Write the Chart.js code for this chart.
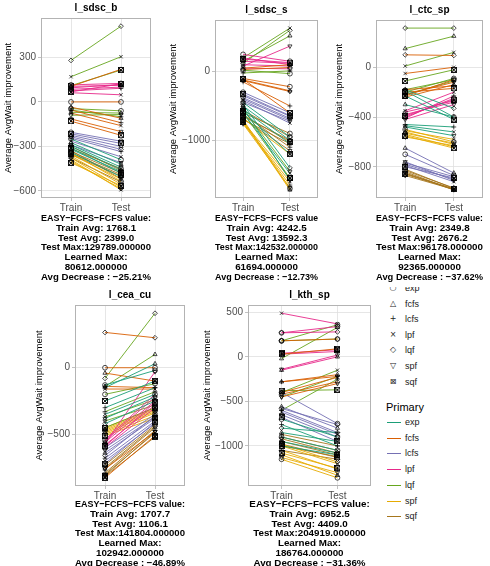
<!DOCTYPE html>
<html>
<head>
<meta charset="utf-8">
<script src="https://cdn.jsdelivr.net/npm/chart.js@4.4.1/dist/chart.umd.min.js"></script>
<style>
  html, body { margin: 0; padding: 0; background: #fff; overflow: hidden; }
  body { width: 490px; height: 566px; position: relative; font-family: 'Liberation Sans', Arial, sans-serif; }
  canvas { position: absolute; background: #fff; }
  .lg { position: absolute; font-size: 9px; line-height: 10px; color: #1a1a1a; white-space: nowrap; }
  .sym { position: absolute; width: 12px; text-align: center; font-family: 'DejaVu Sans', sans-serif; font-size: 8px; line-height: 10px; color: #222; }
  .swatch { position: absolute; width: 14px; height: 0; border-top: 1.5px solid; }
</style>
</head>
<body>
<div id="legend"></div>
<canvas id="c1" width="163" height="290" style="left:0px;top:0px"></canvas>
<canvas id="c2" width="165" height="288" style="left:165px;top:2px"></canvas>
<canvas id="c3" width="159" height="285" style="left:331px;top:2px"></canvas>
<canvas id="c4" width="166" height="291" style="left:31px;top:287px"></canvas>
<canvas id="c5" width="180" height="291" style="left:199px;top:287px"></canvas>
<script>
(function () {
  'use strict';

  // categories
  const phases = ['Train', 'Test'];
  const primaries = ['exp', 'fcfs', 'lcfs', 'lpf', 'lqf', 'spf', 'sqf'];
  const secondaries = ['exp', 'fcfs', 'lcfs', 'lpf', 'lqf', 'spf', 'sqf'];

  // values: 7 primaries x 7 secondaries (primary-major order)
  const sdscBTrain = [
    -250, -275, -300, -320, -340, -290, -310,
    0, -35, -55, -75, 105, -115, -130,
    -205, -225, -245, -265, -235, -290, -215,
    115, 105, 75, 62, 85, 95, 68,
    -45, -70, -55, 170, 280, -90, 110,
    -345, -365, -378, -390, -400, -355, -410,
    -315, -335, -355, -328, -378, -300, -348,
  ];
  const sdscBTest = [
    -390, -420, -455, -470, -505, -440, -480,
    0, -110, -140, -160, 220, -200, -225,
    -265, -300, -335, -370, -320, -410, -280,
    125, 112, 92, 48, 100, 118, 122,
    -60, -75, -100, 305, 511, -85, 215,
    -535, -555, -575, -593, -585, -520, -565,
    -450, -478, -500, -518, -540, -462, -490,
  ];
  const sdscSTrain = [
    -450, -500, -550, -600, -480, -520, -580,
    -100, -120, -150, 50, 30, -130, -110,
    -300, -350, -400, -420, -380, -450, -330,
    250, 200, 150, 100, 50, 80, 180,
    20, 150, -20, 200, 120, -550, -600,
    -700, -720, -740, -750, -680, -760, -730,
    -600, -650, -620, -700, -560, -680, -640,
  ];
  const sdscSTest = [
    -950, -1000, -1050, -1480, -1400, -1580, -1200,
    -220, -280, -500, 100, 60, -290, -600,
    -600, -650, -700, -750, -680, -720, -640,
    150, 100, 120, 80, 40, 370, 130,
    -30, 520, 10, 632, 600, -1450, -1550,
    -1700, -1720, -1650, -1600, -1200, -1690, -1550,
    -900, -1000, -1100, -1050, -950, -1150, -1020,
  ];
  const ctcTrain = [
    -190, -300, -460, -470, -180, -480, -230,
    -230, -240, -180, -50, 100, -220, -200,
    -700, -650, -780, -790, -770, -760, -800,
    -400, -380, -410, -350, -360, -420, -390,
    -200, 150, -220, 10, 315, -180, -110,
    -500, -520, -540, -510, -560, -530, -550,
    -820, -840, -850, -860, -830, -870, -855,
  ];
  const ctcTest = [
    -400, -400, -480, -520, -330, -550, -420,
    -100, -140, -150, 0, 95, -120, -170,
    -870, -850, -900, -920, -880, -910, -890,
    -250, -280, -230, -200, -270, -300, -260,
    -90, 250, -110, 120, 315, -100, -20,
    -600, -620, -640, -580, -630, -610, -650,
    -975, -985, -986, -980, -970, -982, -978,
  ];
  const ceaTrain = [
    -130, -150, -300, -350, -420, -380, -250,
    0, -40, -140, -160, 265, -760, -826,
    -600, -640, -680, -700, -660, -620, -720,
    -540, -560, -580, -600, -550, -570, -590,
    -200, -140, -330, -370, -80, -400, -450,
    -450, -470, -490, -500, -480, -460, -510,
    -730, -760, -790, -800, -750, -810, -815,
  ];
  const ceaTest = [
    -20, 30, -150, -200, -250, -220, -100,
    0, -100, -150, -160, 225, -480, -510,
    -350, -380, -400, -420, -360, -370, -410,
    -200, -250, -280, -300, -220, -30, -260,
    -120, 100, -180, -240, 409, -280, -300,
    -300, -320, -340, -360, -330, -310, -380,
    -430, -450, -470, -490, -440, -480, -520,
  ];
  const kthTrain = [
    -700, -850, -760, -900, -800, -950, -1000,
    180, -280, -280, -400, -420, -450, 30,
    -400, -560, -600, -620, -580, -650, -680,
    270, -150, 30, 490, 270, -140, 40,
    180, -20, -600, -400, 180, -450, -380,
    -1150, -1100, -1050, -1000, -980, -1130, -1080,
    -900, -950, -870, -1000, -1050, -920, -980,
  ];
  const kthTest = [
    -900, -950, -1000, -1050, -850, -1080, -1100,
    200, -200, -220, -230, -280, -300, 90,
    -750, -800, -850, -870, -760, -900, -950,
    340, 0, 60, 370, 280, 20, 80,
    360, 330, -250, -150, 200, -220, -370,
    -1358, -1330, -1260, -1200, -1180, -1300, -1250,
    -1050, -1100, -1000, -1120, -1150, -1080, -1130,
  ];

  // tick labels
  const sdscBTicks = [-600, -300, 0, 300];
  const sdscSTicks = [-1000, 0];
  const ctcTicks = [-800, -400, 0];
  const ceaTicks = [-500, 0];
  const kthTicks = [-1000, -500, 0, 500];

  // text under each panel
  const sdscBNote = ['EASY\u2212FCFS\u2212FCFS value:', 'Train Avg: 1768.1', 'Test Avg: 2399.0', 'Test Max:129789.000000', 'Learned Max:', '80612.000000', 'Avg Decrease : \u221225.21%'];
  const sdscSNote = ['EASY\u2212FCFS\u2212FCFS value', 'Train Avg: 4242.5', 'Test Avg: 13592.3', 'Test Max:142532.000000', 'Learned Max:', '61694.000000', 'Avg Decrease : \u221212.73%'];
  const ctcNote = ['EASY\u2212FCFS\u2212FCFS value:', 'Train Avg: 2349.8', 'Test Avg: 2676.2', 'Test Max:96178.000000', 'Learned Max:', '92365.000000', 'Avg Decrease : \u221237.62%'];
  const ceaNote = ['EASY\u2212FCFS\u2212FCFS value:', 'Train Avg: 1707.7', 'Test Avg: 1106.1', 'Test Max:141804.000000', 'Learned Max:', '102942.000000', 'Avg Decrease : \u221246.89%'];
  const kthNote = ['EASY\u2212FCFS\u2212FCFS value:', 'Train Avg: 6952.5', 'Test Avg: 4409.0', 'Test Max:204919.000000', 'Learned Max:', '186764.000000', 'Avg Decrease : \u221231.36%'];

  // styles
  const FONT = "'Liberation Sans', Arial, sans-serif";
  Chart.defaults.font.family = FONT;

  const lineColors = {
    exp: '#1b9e77', fcfs: '#d95f02', lcfs: '#7570b3', lpf: '#e7298a',
    lqf: '#66a61e', spf: '#e6ab02', sqf: '#a6761d',
  };

  // square with a cross (ggplot shape 7)
  const boxX = document.createElement('canvas');
  boxX.width = 6; boxX.height = 6;
  (function (g) {
    g.strokeStyle = '#000'; g.lineWidth = 0.9;
    g.strokeRect(0.5, 0.5, 5, 5);
    g.beginPath(); g.moveTo(0.5, 0.5); g.lineTo(5.5, 5.5); g.moveTo(5.5, 0.5); g.lineTo(0.5, 5.5); g.stroke();
  })(boxX.getContext('2d'));

  const shapes = {
    exp: { style: 'circle', rot: 0, glyph: '\u25CB' },
    fcfs: { style: 'triangle', rot: 0, glyph: '\u25B3' },
    lcfs: { style: 'cross', rot: 0, glyph: '+' },
    lpf: { style: 'crossRot', rot: 0, glyph: '\u00D7' },
    lqf: { style: 'rectRot', rot: 0, glyph: '\u25C7' },
    spf: { style: 'triangle', rot: 180, glyph: '\u25BD' },
    sqf: { style: boxX, rot: 0, glyph: '\u22A0' },
  };

  // panel border
  const frame = {
    id: 'frame',
    afterDraw(chart) {
      const a = chart.chartArea;
      const ctx = chart.ctx;
      ctx.save();
      ctx.strokeStyle = '#b3b3b3';
      ctx.lineWidth = 1;
      ctx.strokeRect(Math.round(a.left) + 0.5, Math.round(a.top) + 0.5, Math.round(a.width) - 1, Math.round(a.height) - 1);
      ctx.restore();
    }
  };

  function makeDatasets(train, test) {
    const sets = [];
    for (let i = 0; i < train.length; i++) {
      const p = primaries[Math.floor(i / secondaries.length)];
      const s = secondaries[i % secondaries.length];
      const pts = [{ x: 1, y: train[i] }, { x: 2, y: test[i] }];
      // lines underneath
      sets.push({
        data: pts, borderColor: lineColors[p], borderWidth: 0.9,
        pointRadius: 0, order: 1,
      });
      // points on top
      sets.push({
        data: pts, showLine: false, order: 0,
        pointStyle: shapes[s].style, pointRotation: shapes[s].rot,
        pointRadius: 2.4, pointBorderWidth: 0.7,
        pointBorderColor: '#000', pointBackgroundColor: 'rgba(0,0,0,0)',
      });
    }
    return sets;
  }

  function drawPanel(id, name, train, test, ticks, yMin, yMax, note, yW, xH, pb, padR) {
    const ctx = document.getElementById(id).getContext('2d');
    return new Chart(ctx, {
      type: 'line',
      data: { datasets: makeDatasets(train, test) },
      plugins: [frame],
      options: {
        responsive: false,
        animation: false,
        events: [],
        layout: { padding: { left: 0, right: padR, top: 0, bottom: 0 } },
        scales: {
          x: {
            type: 'linear', min: 0.4, max: 2.6,
            afterBuildTicks: (s) => { s.ticks = [1, 2].map(v => ({ value: v })); },
            afterFit: (s) => { s.height = xH; },
            grid: { color: '#e0e0e0', lineWidth: 0.8, tickColor: '#b3b3b3', tickLength: 3 },
            border: { display: false },
            ticks: {
              color: '#4d4d4d', font: { size: 10 }, padding: 1, maxRotation: 0,
              callback: (v) => phases[v - 1],
            },
            title: {
              display: true, text: note, color: '#000',
              font: { size: 9.8, weight: 'bold', lineHeight: 1.0 },
              padding: { top: 0, bottom: pb },
            },
          },
          y: {
            type: 'linear', min: yMin, max: yMax,
            afterBuildTicks: (s) => { s.ticks = ticks.map(v => ({ value: v })); },
            afterFit: (s) => { s.width = yW; },
            grid: { color: '#e0e0e0', lineWidth: 0.8, tickColor: '#b3b3b3', tickLength: 3 },
            border: { display: false },
            ticks: {
              color: '#4d4d4d', font: { size: 10 }, padding: 2,
              callback: (v) => String(v).replace('-', '\u2212'),
            },
            title: {
              display: true, text: 'Average AvgWait improvement', color: '#000',
              font: { size: 9.5 }, padding: { top: 3, bottom: 2 },
            },
          },
        },
        plugins: {
          legend: { display: false },
          tooltip: { enabled: false },
          title: {
            display: true, text: name, fullSize: false, color: '#000',
            font: { size: 10, weight: 'bold', lineHeight: 1.2 },
            padding: { top: 2, bottom: 4 },
          },
        },
      },
    });
  }

  drawPanel('c1', 'l_sdsc_b', sdscBTrain, sdscBTest, sdscBTicks, -648, 566, sdscBNote, 41, 92, 8, 12);
  drawPanel('c2', 'l_sdsc_s', sdscSTrain, sdscSTest, sdscSTicks, -1838, 750, sdscSNote, 50, 92, 8, 12);
  drawPanel('c3', 'l_ctc_sp', ctcTrain, ctcTest, ctcTicks, -1051, 380, ctcNote, 45, 89, 5, 7);
  drawPanel('c4', 'l_cea_cu', ceaTrain, ceaTest, ceaTicks, -888, 471, ceaNote, 44, 92, 10, 12);
  drawPanel('c5', 'l_kth_sp', kthTrain, kthTest, kthTicks, -1450, 582, kthNote, 49, 92, 10, 8);

  // legends (shape legend's title sits under the top-right panel)
  const lg = document.getElementById('legend');
  function add(cls, text, left, top, extra) {
    const d = document.createElement('div');
    d.className = cls;
    d.textContent = text;
    d.style.left = left + 'px';
    d.style.top = top + 'px';
    if (extra) Object.assign(d.style, extra);
    lg.appendChild(d);
  }
  secondaries.forEach((s, i) => {
    const y = 288 + i * 15.6;
    add('sym', shapes[s].glyph, 387, y - 5);
    add('lg', s, 405, y - 5);
  });
  add('lg', 'Primary', 386, 401, { fontSize: '11px', lineHeight: '12px', color: '#000' });
  primaries.forEach((p, i) => {
    const y = Math.round(422 + i * 15.7);
    add('swatch', '', 387, y, { borderTopColor: lineColors[p] });
    add('lg', p, 405, y - 5);
  });
})();
</script>
</body>
</html>
